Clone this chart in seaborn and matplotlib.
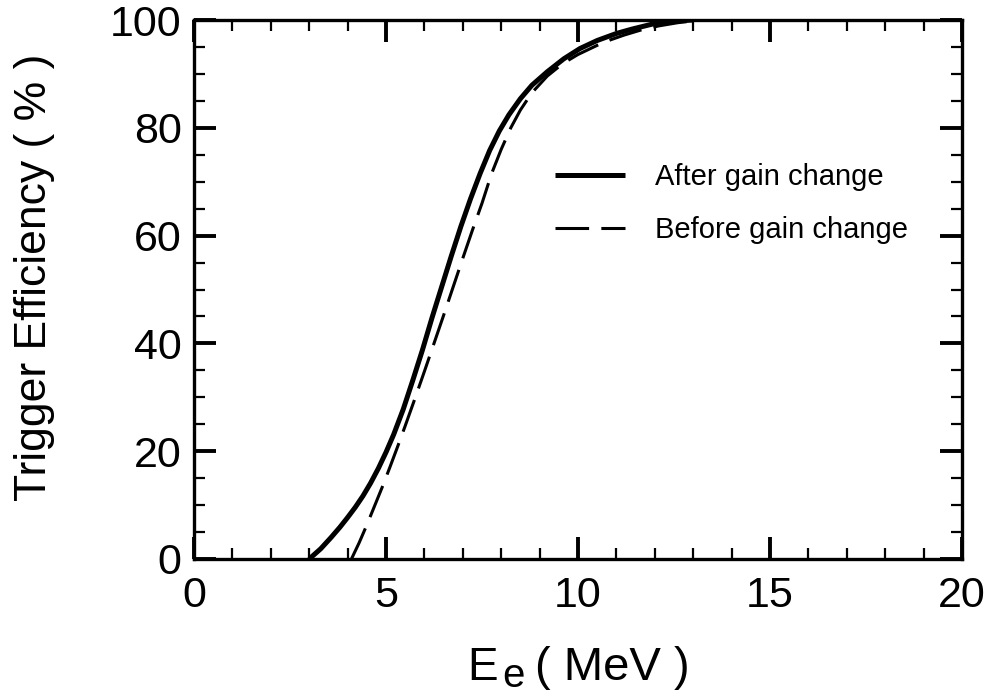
import matplotlib
matplotlib.use("Agg")
import matplotlib.pyplot as plt
import seaborn as sns
import pandas as pd
from matplotlib.ticker import MultipleLocator

# ---- data ----
after_energy = [3.0, 3.3, 3.57, 3.8, 4.0, 4.2, 4.4, 4.6, 4.8, 5.0, 5.2, 5.45, 5.7,
                5.95, 6.2, 6.45, 6.7, 6.95, 7.2, 7.45, 7.7, 7.95, 8.2, 8.5, 8.8,
                9.2, 9.63, 10.05, 10.5, 11.0, 11.4, 11.97, 12.5, 13.0]
after_eff = [0.0, 1.9, 4.0, 5.9, 7.7, 9.6, 11.7, 14.1, 16.8, 19.8, 23.1, 27.8, 33.2,
             38.8, 44.8, 50.5, 56.2, 61.7, 66.8, 71.5, 75.8, 79.4, 82.4, 85.4, 87.9,
             90.4, 92.8, 94.7, 96.2, 97.5, 98.3, 99.3, 99.8, 100.0]

before_energy = [4.1, 4.3, 4.5, 4.7, 4.9, 5.1, 5.3, 5.5, 5.75, 6.0, 6.25, 6.5,
                 6.75, 7.0, 7.25, 7.5, 7.75, 8.0, 8.25, 8.5, 8.8, 9.2, 9.6, 10.0,
                 10.5, 10.84, 11.2, 11.62, 12.1, 12.6, 13.1, 13.6]
before_eff = [0.0, 3.0, 6.3, 9.8, 13.3, 17.0, 20.8, 24.7, 29.7, 34.8, 40.0, 45.2,
              50.5, 55.8, 61.0, 66.0, 71.5, 76.0, 80.0, 83.3, 86.5, 89.6, 91.9, 93.6,
              95.3, 96.3, 97.2, 98.1, 98.9, 99.5, 99.9, 100.0]

series_labels = ["After gain change", "Before gain change"]
x_ticks = [0, 5, 10, 15, 20]
y_ticks = [0, 20, 40, 60, 80, 100]

sns.set_theme(style="ticks")
plt.rcParams["font.family"] = ["Liberation Sans", "DejaVu Sans"]

W, H = 996, 698
fig = plt.figure(figsize=(W / 100, H / 100), dpi=100)
ax = fig.add_axes([194 / W, 1 - 559 / H, (962 - 194) / W, (559 - 20) / H])

df_after = pd.DataFrame({"E": after_energy, "eff": after_eff})
df_before = pd.DataFrame({"E": before_energy, "eff": before_eff})

sns.lineplot(data=df_after, x="E", y="eff", ax=ax, color="black", linewidth=3.6,
             sort=False, label=series_labels[0], solid_capstyle="butt",
             solid_joinstyle="round")
sns.lineplot(data=df_before, x="E", y="eff", ax=ax, color="black", linewidth=2.2,
             sort=False, label=series_labels[1], linestyle=(0, (11, 4)),
             dash_capstyle="butt")

ax.set_xlim(0, 20)
ax.set_ylim(0, 100)
ax.set_xticks(x_ticks)
ax.set_yticks(y_ticks)
ax.xaxis.set_minor_locator(MultipleLocator(1))
ax.yaxis.set_minor_locator(MultipleLocator(5))
ax.tick_params(which="major", direction="in", length=16, width=2.8,
               top=True, right=True, labelsize=31, color="black", pad=9,
               labelcolor="black")
ax.tick_params(which="minor", direction="in", length=8, width=1.6,
               top=True, right=True, color="black")
ax.tick_params(axis="x", which="major", pad=12)
for s in ax.spines.values():
    s.set_visible(True)
    s.set_linewidth(2.4)
    s.set_color("black")

# y label
ax.set_xlabel("")
ax.set_ylabel("Trigger Efficiency ( % )", fontsize=32, color="black")
ax.yaxis.set_label_coords((55 - 194) / 768, (559 - 277) / 539)

# x label: E with a large lowered subscript e
fig.text(467 / W, 1 - 680 / H, "E", fontsize=33, ha="left", va="baseline", color="black")
fig.text(502 / W, 1 - 687 / H, "e", fontsize=29, ha="left", va="baseline", color="black")
fig.text(535 / W, 1 - 680 / H, "( MeV )", fontsize=34, ha="left", va="baseline", color="black")

leg = ax.legend(loc="upper left", bbox_to_anchor=((555 - 194) / 768, 0.735),
                frameon=False, fontsize=21, handlelength=2.4, handletextpad=1.03,
                labelspacing=0.87, borderpad=0, borderaxespad=0)
for t in leg.get_texts():
    t.set_color("black")

fig.savefig("out.png", dpi=100, facecolor="white")
